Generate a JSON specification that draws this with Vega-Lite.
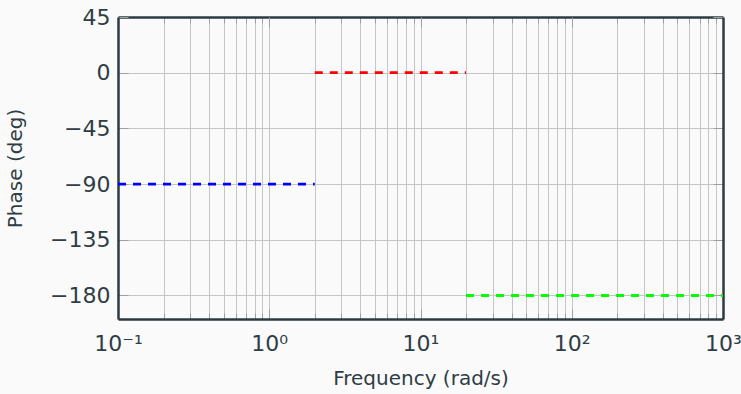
{
  "$schema": "https://vega.github.io/schema/vega-lite/v6.json",
  "autosize": {"type": "none"},
  "width": 605,
  "height": 302,
  "padding": {"left": 118, "top": 17, "right": 18, "bottom": 75},
  "background": "#fafafa",
  "view": {"stroke": null},
  "config": {
    "font": "DejaVu Sans",
    "axis": {
      "labelFont": "DejaVu Sans",
      "titleFont": "DejaVu Sans",
      "labelColor": "#2f3d44",
      "titleColor": "#2f3d44",
      "labelFontSize": 22,
      "titleFontSize": 20,
      "titleFontWeight": "normal",
      "gridColor": "#c6c6c6",
      "gridOpacity": 1,
      "gridWidth": 1,
      "tickColor": "#a0a0a0",
      "domain": true,
      "domainColor": "#2c3b41",
      "domainWidth": 2.5
    }
  },
  "data": {
    "values": [
      {"f": 0.1, "phase": -90, "s": "a"},
      {"f": 2, "phase": -90, "s": "a"},
      {"f": 2, "phase": 0, "s": "b"},
      {"f": 20, "phase": 0, "s": "b"},
      {"f": 20, "phase": -180, "s": "c"},
      {"f": 1000, "phase": -180, "s": "c"}
    ]
  },
  "resolve": {"axis": {"x": "independent", "y": "independent"}},
  "layer": [
    {
      "mark": {"type": "line", "strokeDash": [8, 7], "strokeWidth": 2.8, "clip": true},
      "encoding": {
        "x": {
          "field": "f", "type": "quantitative",
          "scale": {"type": "log", "domain": [0.1, 1000], "nice": false},
          "axis": {
            "orient": "bottom", "grid": true, "labels": false, "title": null, "domain": false,
            "tickSize": -6,
            "values": [0.1,0.2,0.3,0.4,0.5,0.6,0.7,0.8,0.9,1,2,3,4,5,6,7,8,9,10,20,30,40,50,60,70,80,90,100,200,300,400,500,600,700,800,900,1000]
          }
        },
        "y": {
          "field": "phase", "type": "quantitative",
          "scale": {"domain": [-199, 45], "nice": false, "zero": false},
          "axis": {
            "orient": "left", "grid": true, "tickSize": -10,
            "values": [-180, -135, -90, -45, 0, 45],
            "labelExpr": "datum.value < 0 ? '−' + abs(datum.value) : '' + datum.value",
            "labelPadding": 18,
            "title": "Phase (deg)",
            "titlePadding": 24
          }
        },
        "color": {
          "field": "s", "type": "nominal", "legend": null,
          "scale": {"domain": ["a", "b", "c"], "range": ["#0000ff", "#ff0000", "#00ff00"]}
        },
        "detail": {"field": "s"}
      }
    },
    {
      "mark": {"type": "line", "opacity": 0},
      "encoding": {
        "x": {
          "field": "f", "type": "quantitative",
          "scale": {"type": "log", "domain": [0.1, 1000], "nice": false},
          "axis": {
            "orient": "bottom", "grid": false, "tickSize": -10,
            "values": [0.1, 1, 10, 100, 1000],
            "labelExpr": "'10' + (round(log(datum.value)/LN10) == -1 ? '⁻¹' : round(log(datum.value)/LN10) == 0 ? '⁰' : round(log(datum.value)/LN10) == 1 ? '¹' : round(log(datum.value)/LN10) == 2 ? '²' : '³')",
            "labelPadding": 24,
            "labelFlush": false,
            "labelOverlap": false,
            "title": "Frequency (rad/s)",
            "titlePadding": 14
          }
        },
        "y": {
          "field": "phase", "type": "quantitative",
          "scale": {"domain": [-199, 45], "nice": false, "zero": false},
          "axis": {
            "orient": "right", "grid": false, "labels": false, "title": null,
            "tickSize": -10, "values": [-180, -135, -90, -45, 0, 45]
          }
        }
      }
    },
    {
      "mark": {"type": "line", "opacity": 0},
      "encoding": {
        "x": {
          "field": "f", "type": "quantitative",
          "scale": {"type": "log", "domain": [0.1, 1000], "nice": false},
          "axis": {
            "orient": "top", "grid": false, "labels": false, "title": null,
            "tickSize": -6,
            "values": [0.2,0.3,0.4,0.5,0.6,0.7,0.8,0.9,2,3,4,5,6,7,8,9,20,30,40,50,60,70,80,90,200,300,400,500,600,700,800,900]
          }
        },
        "y": {"field": "phase", "type": "quantitative", "axis": null}
      }
    },
    {
      "mark": {"type": "line", "opacity": 0},
      "encoding": {
        "x": {
          "field": "f", "type": "quantitative",
          "scale": {"type": "log", "domain": [0.1, 1000], "nice": false},
          "axis": {
            "orient": "top", "grid": false, "labels": false, "title": null, "domain": false,
            "tickSize": -10, "values": [0.1, 1, 10, 100, 1000]
          }
        },
        "y": {"field": "phase", "type": "quantitative", "axis": null}
      }
    }
  ]
}
